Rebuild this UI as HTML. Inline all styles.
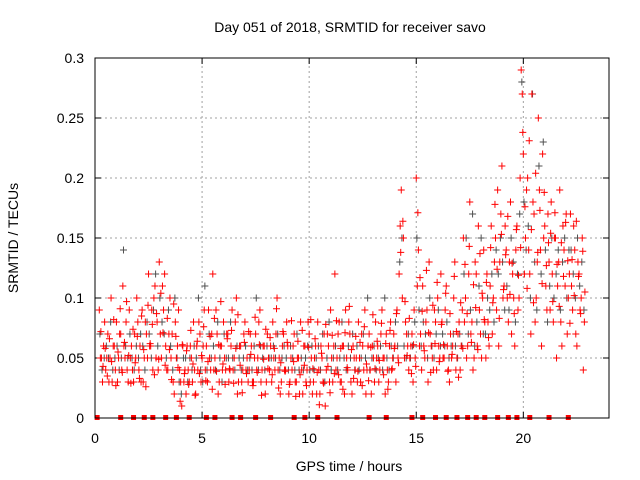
<!DOCTYPE html>
<html><head><meta charset="utf-8"><style>
html,body{margin:0;padding:0;background:#fff}
svg{display:block;font-family:"Liberation Sans",sans-serif}
</style></head><body>
<svg id="chart" width="640" height="480">
<text x="350" y="32" font-size="14" text-anchor="middle">Day 051 of 2018, SRMTID for receiver savo</text>
<text x="349" y="471" font-size="14" text-anchor="middle">GPS time / hours</text>
<text transform="translate(18,238) rotate(-90)" font-size="14" text-anchor="middle">SRMTID / TECUs</text>
<g id="grid"></g>
<g id="ticks"></g>
<g id="gray"></g>
<g id="red"></g>
<rect x="95" y="58" width="514" height="360" fill="none" stroke="#000" stroke-width="1"/>
</svg>
<script>
const xTicks=[0,5,10,15,20];
const yTicks=[0,0.05,0.1,0.15,0.2,0.25,0.3];
const yTickLabels=["0","0.05","0.1","0.15","0.2","0.25","0.3"];
const startHour=0.2, stepHour=0.1;
const redA=[.09,.05,.06,.04,.07,.05,.03,.06,.08,.05,
.07,.11,.05,.04,.09,.06,.03,.05,.08,.06,
.09,.05,.07,.12,.06,.04,.11,.08,.13,.05,
.09,.06,.04,.10,.07,.02,.05,.09,.03,.06,
.04,.06,.03,.05,.08,.02,.04,.07,.05,.09,
.06,.09,.04,.12,.05,.07,.03,.06,.08,.04,
.07,.04,.09,.05,.10,.03,.06,.04,.08,.05,
.04,.06,.03,.07,.05,.09,.04,.06,.03,.05,
.06,.08,.04,.10,.05,.03,.07,.04,.06,.03,
.04,.07,.03,.05,.08,.02,.06,.04,.07,.05,
.03,.06,.08,.02,.05,.07,.04,.06,.09,.03,
.12,.05,.08,.03,.06,.09,.04,.07,.02,.05,
.05,.08,.03,.06,.09,.04,.07,.02,.05,.08,
.06,.04,.09,.05,.07,.03,.08,.05,.06,.09,
.12,.19,.15,.08,.06,.05,.07,.09,.20,.14,
.07,.11,.05,.09,.13,.06,.04,.08,.10,.05,
.08,.05,.11,.04,.07,.06,.13,.05,.08,.06,
.15,.10,.06,.18,.08,.05,.12,.16,.07,.10,
.08,.12,.06,.16,.10,.15,.19,.13,.21,.11,
.14,.08,.18,.12,.06,.16,.10,.29,.22,.15,
.20,.12,.27,.17,.10,.25,.14,.22,.16,.09,
.13,.18,.08,.15,.11,.19,.06,.14,.17,.10,
.17,.09,.14,.06,.12,.10,.04];
const redB=[.05,.03,.08,.05,.03,.10,.06,.04,.03,.07,
.04,.06,.08,.03,.05,.04,.07,.10,.04,.03,
.03,.08,.05,.06,.09,.10,.05,.04,.07,.11,
.12,.04,.07,.05,.03,.08,.06,.04,.01,.03,
.02,.04,.06,.03,.04,.06,.08,.03,.06,.04,
.03,.05,.07,.04,.09,.02,.06,.04,.05,.07,
.03,.06,.04,.08,.02,.06,.03,.07,.04,.03,
.07,.03,.05,.04,.08,.03,.06,.02,.07,.04,
.03,.05,.07,.04,.02,.06,.04,.08,.02,.05,
.06,.03,.05,.02,.04,.06,.03,.08,.03,.02,
.05,.02,.04,.06,.03,.01,.07,.03,.05,.06,
.04,.07,.03,.06,.02,.05,.08,.03,.06,.04,
.03,.05,.07,.04,.02,.06,.04,.06,.03,.05,
.03,.07,.05,.02,.04,.06,.04,.07,.03,.05,
.16,.10,.05,.07,.04,.06,.03,.05,.11,.06,
.04,.06,.08,.03,.07,.05,.09,.04,.06,.12,
.05,.09,.06,.03,.05,.10,.04,.07,.04,.09,
.08,.05,.12,.07,.04,.13,.06,.09,.05,.14,
.05,.08,.11,.07,.13,.09,.06,.17,.10,.16,
.10,.13,.07,.10,.14,.09,.20,.27,.12,.19,
.14,.07,.18,.08,.13,.19,.06,.15,.11,.17,
.09,.12,.15,.05,.13,.08,.16,.11,.07,.12,
.11,.16,.07,.13,.09,.15,.08];
const redC=[.072,.043,.058,.035,.066,.047,.082,.027,.055,.091,
.038,.063,.097,.052,.029,.074,.046,.068,.033,.085,
.057,.026,.094,.062,.078,.036,.087,.049,.104,.071,
.044,.083,.057,.032,.095,.068,.042,.014,.061,.037,
.056,.028,.073,.045,.019,.064,.037,.052,.076,.031,
.047,.068,.024,.083,.039,.061,.097,.045,.028,.066,
.041,.073,.029,.058,.086,.044,.021,.063,.037,.072,
.053,.027,.084,.038,.061,.019,.049,.074,.041,.067,
.036,.058,.091,.025,.046,.072,.039,.063,.028,.081,
.047,.018,.064,.036,.073,.044,.027,.059,.082,.041,
.066,.038,.011,.054,.029,.078,.043,.021,.069,.037,
.081,.036,.058,.024,.071,.042,.093,.057,.033,.068,
.039,.063,.027,.076,.045,.031,.059,.086,.041,.064,
.048,.079,.036,.062,.024,.073,.041,.058,.087,.046,
.138,.164,.097,.052,.083,.037,.061,.043,.171,.117,
.089,.056,.123,.071,.038,.094,.062,.113,.047,.078,
.061,.104,.039,.087,.053,.118,.072,.034,.096,.058,
.128,.087,.143,.063,.111,.092,.057,.137,.104,.082,
.113,.067,.142,.096,.178,.124,.083,.153,.107,.136,
.168,.103,.129,.087,.157,.119,.142,.238,.176,.108,
.231,.157,.096,.204,.138,.173,.112,.188,.127,.146,
.154,.097,.171,.128,.093,.146,.118,.163,.131,.079,
.132,.102,.164,.118,.087,.139,.105];
const grayVals=[.07,.04,.05,.06,.05,.08,.04,.05,.06,.04,
.05,.14,.06,.05,.07,.05,.04,.06,.05,.07,
.06,.04,.08,.07,.05,.09,.12,.06,.10,.08,
.07,.05,.09,.06,.04,.10,.05,.03,.02,.05,
.05,.03,.05,.04,.06,.05,.10,.04,.03,.11,
.04,.07,.05,.06,.04,.08,.05,.03,.07,.05,
.05,.08,.05,.04,.06,.05,.04,.05,.06,.04,
.05,.04,.06,.10,.04,.06,.05,.04,.06,.05,
.05,.06,.05,.07,.04,.05,.06,.05,.04,.06,
.05,.04,.07,.04,.05,.04,.05,.06,.04,.06,
.04,.05,.06,.04,.07,.03,.05,.08,.04,.05,
.06,.04,.05,.08,.05,.04,.06,.05,.07,.04,
.06,.04,.05,.07,.05,.10,.04,.05,.06,.04,
.05,.06,.04,.10,.05,.04,.06,.05,.08,.06,
.13,.15,.06,.05,.07,.05,.06,.08,.15,.09,
.06,.08,.07,.05,.10,.06,.05,.07,.09,.06,
.07,.06,.08,.05,.06,.07,.06,.05,.07,.06,
.12,.15,.07,.09,.17,.06,.08,.11,.15,.07,
.07,.10,.09,.12,.08,.14,.12,.15,.13,.09,
.11,.09,.15,.13,.08,.12,.17,.28,.18,.14,
.16,.10,.27,.13,.09,.21,.12,.23,.14,.08,
.11,.15,.10,.12,.14,.09,.13,.15,.10,.14,
.14,.12,.10,.15,.11,.13,.09];
const zeroTimes=[0.1,1.2,1.8,2.3,2.7,3.3,3.8,4.4,5.2,5.6,6.4,6.8,7.5,8.2,9.3,9.8,10.4,11.3,12.8,13.6,14.8,15.3,15.9,16.4,16.9,17.4,17.8,18.2,18.8,19.3,19.7,20.3,21.2,22.1];

const X0=95,X1=609,Y0=418,Y1=58,XMAX=24,YMAX=0.3;
const xs=h=>X0+h/XMAX*(X1-X0);
const ys=v=>Y0-v/YMAX*(Y0-Y1);
const NS="http://www.w3.org/2000/svg";
function mk(tag,attrs,parent){const e=document.createElementNS(NS,tag);for(const k in attrs)e.setAttribute(k,attrs[k]);parent.appendChild(e);return e;}
const grid=document.getElementById('grid'),ticks=document.getElementById('ticks');
xTicks.forEach(t=>{
  const x=xs(t);
  if(t>0){const g=mk('line',{x1:x,x2:x,y1:Y0,y2:Y1,stroke:'#a0a0a0','stroke-dasharray':'2,3'},grid);
  
  }
  mk('line',{x1:x,x2:x,y1:Y0,y2:Y0-6,stroke:'#000'},ticks);
  mk('line',{x1:x,x2:x,y1:Y1,y2:Y1+6,stroke:'#000'},ticks);
  const l=mk('text',{x:x,y:443,'font-size':14,'text-anchor':'middle'},ticks);l.textContent=t;
  
  
});
yTicks.forEach((t,i)=>{
  const y=ys(t);
  if(t>0&&t<0.3){const g=mk('line',{x1:X0,x2:X1,y1:y,y2:y,stroke:'#a0a0a0','stroke-dasharray':'2,3'},grid);
  
  }
  mk('line',{x1:X0,x2:X0+6,y1:y,y2:y,stroke:'#000'},ticks);
  mk('line',{x1:X1,x2:X1-6,y1:y,y2:y,stroke:'#000'},ticks);
  const l=mk('text',{x:84,y:y+5,'font-size':14,'text-anchor':'end'},ticks);l.textContent=yTickLabels[i];
  
  
});
function plus(g,h,v,color){
  const x=xs(h),y=ys(v);
  const p=mk('path',{d:`M${x-3.5},${y}H${x+3.5}M${x},${y-3.5}V${y+3.5}`,stroke:color,'stroke-width':1,fill:'none'},g);
  
  
}
const gG=document.getElementById('gray'),gR=document.getElementById('red');
grayVals.forEach((v,i)=>plus(gG,startHour+i*stepHour+0.03,v,'#505050'));
redA.forEach((v,i)=>plus(gR,startHour+i*stepHour,v,'#ff0000'));
redB.forEach((v,i)=>plus(gR,startHour+i*stepHour+0.05,v,'#ff0000'));
redC.forEach((v,i)=>plus(gR,startHour+i*stepHour+0.075,v,'#ff0000'));
zeroTimes.forEach(t=>{
  const x=xs(t);
  const r=mk('rect',{x:x-2.5,y:Y0-3,width:5,height:5,fill:'#ff0000'},gR);
  
  
});
</script>
</body></html>
